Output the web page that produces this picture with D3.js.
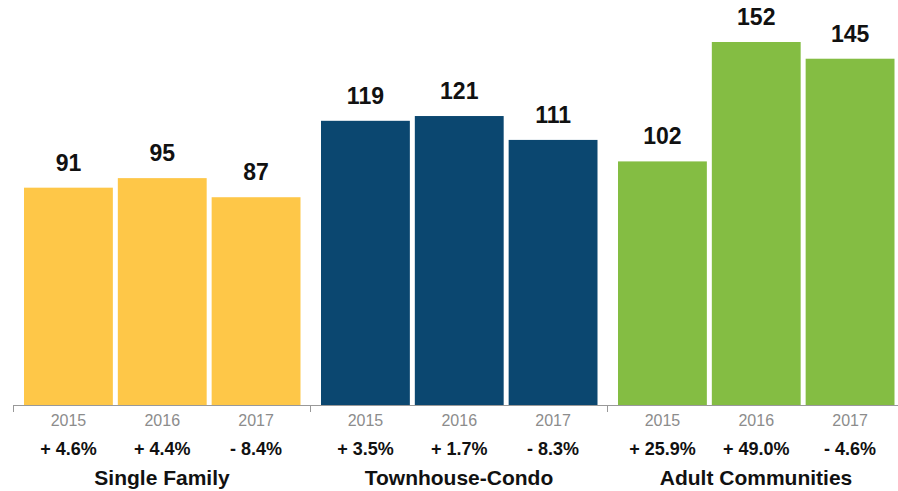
<!DOCTYPE html>
<html>
<head>
<meta charset="utf-8">
<script src="https://cdn.jsdelivr.net/npm/d3@7"></script>
<style>
  html, body { margin: 0; padding: 0; background: #fff; overflow: hidden; }
  svg { display: block; font-family: "Liberation Sans", Arial, Helvetica, sans-serif; }
</style>
</head>
<body>
<svg id="chart"></svg>
<script>
const categories = ['Single Family', 'Townhouse-Condo', 'Adult Communities'];
const years = ['2015', '2016', '2017'];
const values = [
  [91, 95, 87],
  [119, 121, 111],
  [102, 152, 145],
];
const changes = [
  ['+ 4.6%', '+ 4.4%', '- 8.4%'],
  ['+ 3.5%', '+ 1.7%', '- 8.3%'],
  ['+ 25.9%', '+ 49.0%', '- 4.6%'],
];
const colors = ['#fec748', '#0b4770', '#84bd43'];

const width = 898;
const height = 491;
const baseline = 405;

const svg = d3.select('#chart').attr('width', width).attr('height', height);

const x0 = d3.scaleBand().domain(categories).range([13.5, 904.5]).padding(0);
const x1 = d3.scaleBand().domain(years).range([10.5, x0.bandwidth() - 10]).paddingInner(0.053);
const y = d3.scaleLinear().domain([0, 152]).range([baseline, 42]);

const data = categories.flatMap((c, i) =>
  years.map((yr, j) => ({ cat: c, year: yr, value: values[i][j], change: changes[i][j], color: colors[i] })),
);

const groups = svg
  .append('g')
  .selectAll('g')
  .data(data)
  .join('g')
  .attr('transform', (d) => `translate(${x0(d.cat) + x1(d.year)},0)`);

// bars
groups
  .append('rect')
  .attr('x', 0)
  .attr('y', (d) => y(d.value))
  .attr('width', x1.bandwidth())
  .attr('height', (d) => y(0) - y(d.value))
  .attr('fill', (d) => d.color);

// value labels
groups
  .append('text')
  .attr('x', x1.bandwidth() / 2)
  .attr('y', (d) => y(d.value) - 17)
  .attr('text-anchor', 'middle')
  .attr('font-weight', 'bold')
  .attr('font-size', 23)
  .attr('fill', '#111')
  .text((d) => d.value);

// year labels
groups
  .append('text')
  .attr('x', x1.bandwidth() / 2)
  .attr('y', 426)
  .attr('text-anchor', 'middle')
  .attr('font-size', 16)
  .attr('fill', '#8c8c8c')
  .text((d) => d.year);

// change labels
groups
  .append('text')
  .attr('x', x1.bandwidth() / 2)
  .attr('y', 455)
  .attr('text-anchor', 'middle')
  .attr('font-weight', 'bold')
  .attr('font-size', 18)
  .attr('fill', '#111')
  .text((d) => d.change);

// axis line and group ticks
svg
  .append('g')
  .attr('transform', `translate(0,${baseline})`)
  .call(d3.axisBottom(x0).tickValues([]).tickSizeOuter(0))
  .call((g) => g.select('.domain').attr('stroke', '#999').attr('stroke-width', 1));

svg
  .append('g')
  .selectAll('line')
  .data(categories)
  .join('line')
  .attr('x1', (d) => x0(d))
  .attr('x2', (d) => x0(d))
  .attr('y1', baseline)
  .attr('y2', baseline + 7)
  .attr('stroke', '#999')
  .attr('stroke-width', 1);

// category labels
svg
  .append('g')
  .selectAll('text')
  .data(categories)
  .join('text')
  .attr('x', (d) => x0(d) + x0.bandwidth() / 2)
  .attr('y', 485)
  .attr('text-anchor', 'middle')
  .attr('font-weight', 'bold')
  .attr('font-size', 21)
  .attr('fill', '#111')
  .text((d) => d);
</script>
</body>
</html>
